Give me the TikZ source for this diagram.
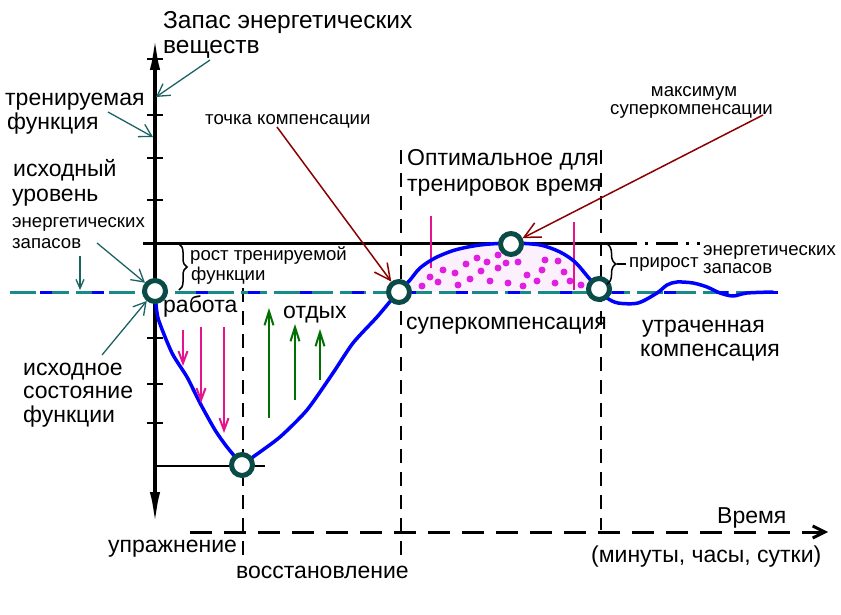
\documentclass[tikz,border=0pt]{standalone}
\usepackage{fontspec}
\setmainfont{Liberation Sans}
\usetikzlibrary{arrows.meta,decorations.pathreplacing}
\definecolor{ringc}{HTML}{0B4B47}
\definecolor{tealc}{HTML}{1B6262}
\definecolor{basec}{HTML}{178A8A}
\definecolor{redc}{HTML}{8B0000}
\definecolor{pinkc}{HTML}{E6148C}
\definecolor{dotc}{HTML}{E020E0}
\definecolor{fillc}{HTML}{FDF0FD}
\definecolor{greenc}{HTML}{007000}
\newcommand\mybig{\fontsize{23}{25}\selectfont}
\newcommand\mybigger{\fontsize{24.5}{26}\selectfont}
\newcommand\mysmall{\fontsize{18.6}{20}\selectfont}
\begin{document}
\begin{tikzpicture}[x=1pt,y=-1pt,
  lbl/.style={anchor=base west,inner sep=0,font=\mybig},
  slbl/.style={anchor=base west,inner sep=0,font=\mysmall},
  ring/.style={circle,draw=ringc,line width=5pt,fill=white,minimum size=21pt,inner sep=0},
  curve/.style={blue,line width=3.5pt,line join=round,line cap=round},
  vdash/.style={black,line width=2pt,dash pattern=on 14pt off 9pt},
  tealarrow/.style={draw=tealc,line width=1.3pt,-{Straight Barb[length=12pt,width=14pt]}},
  redarrow/.style={draw=redc,line width=1.5pt,-{Straight Barb[length=16pt,width=16pt]}},
  pinkarrow/.style={draw=pinkc,line width=2pt,-{Straight Barb[length=12pt,width=9pt]}},
  greenarrow/.style={draw=greenc,line width=2pt,-{Straight Barb[length=14pt,width=9pt]}},
  pdot/.style={circle,fill=dotc,inner sep=0,minimum size=7pt}]
\useasboundingbox (0,0) rectangle (841,615);

% axes
\coordinate (ytop) at (155,30);
\coordinate (ybot) at (155,532);
\draw[line width=4.5pt,{Latex[length=40pt,width=10pt]}-{Latex[length=40pt,width=10pt]}] (ybot) -- (ytop);
\foreach \yy in {59,115,158,200,338,384,423}
  \draw[line width=1.5pt] (147,\yy) -- (163,\yy);
\coordinate (xa) at (190,532);
\coordinate (xb) at (828,532);
\draw[line width=3pt,dash pattern=on 22pt off 12pt,-{Straight Barb[length=12pt,width=12pt]}] (xa) -- (xb);

% dashed verticals
\coordinate (v1a) at (243,288); \coordinate (v1b) at (243,555);
\coordinate (v2a) at (401,150); \coordinate (v2b) at (401,558);
\coordinate (v3a) at (601,150); \coordinate (v3b) at (601,530);
\draw[vdash] (v1a) -- (v1b);
\draw[vdash] (v2a) -- (v2b);
\draw[vdash] (v3a) -- (v3b);

% level lines
\coordinate (la) at (143,243); \coordinate (lb) at (615,243); \coordinate (lc) at (700,243);
\draw[line width=3pt] (la) -- (lb);
\draw[line width=3pt,dash pattern=on 22pt off 8pt on 3pt off 8pt] (lb) -- (lc);
\coordinate (ma) at (155,466); \coordinate (mb) at (265,466);
\draw[line width=1.2pt] (ma) -- (mb);

% hump fill
\fill[fillc] plot[smooth] coordinates {(399,292) (410,280) (420,268) (435,258) (455,250) (480,245) (511,243) (540,245) (560,252) (575,262) (588,277) (599,290)} -- cycle;
\foreach \p in {(443,270),(438,282),(422,286),(455,273),(466,264),(477,258),(481,271),(470,279),(458,285),(490,281),(498,255),(498,268),(508,283),(518,262),(527,275),(523,286),(537,281),(545,260),(542,270),(555,283),(558,261),(564,272),(581,285),(487,262),(506,263),(430,277),(570,281)}
  \node[pdot] at \p {};
\draw[pinkc,line width=1.5pt] (431,216) -- (431,268);
\draw[pinkc,line width=1.5pt] (574,222) -- (574,290);

% baseline
\coordinate (ba) at (10,292); \coordinate (bb) at (778,292);
\draw[basec,line width=3pt,dash pattern=on 26pt off 7pt] (ba) -- (bb);
\draw[blue,line width=3pt,dash pattern=on 12pt off 40pt,dash phase=-30pt] (ba) -- (bb);

% curve
\draw[curve] plot[smooth,tension=0.4] coordinates {(155,292) (158,318) (172,353) (187,377) (200,403) (215,430) (227,447) (242,465)};
\draw[curve] plot[smooth,tension=0.4] coordinates {(242,465) (253,457) (280,437) (307,410) (333,373) (353,343) (377,317) (393,298) (399,292)};
\draw[curve] plot[smooth] coordinates {(399,292) (410,280) (420,268) (435,258) (455,250) (480,245) (511,243) (540,245) (560,252) (575,262) (588,277) (599,290)};
\draw[curve] plot[smooth] coordinates {(599,290) (607,298) (618,303) (638,303) (657,293) (667,285) (677,282) (693,283) (707,287) (720,293) (733,296) (747,293) (773,292)};

% work / rest arrows
\coordinate (pa1) at (183,330); \coordinate (pb1) at (183,366);
\coordinate (pa2) at (201,327); \coordinate (pb2) at (201,403);
\coordinate (pa3) at (224,327); \coordinate (pb3) at (224,433);
\draw[pinkarrow] (pa1) -- (pb1);
\draw[pinkarrow] (pa2) -- (pb2);
\draw[pinkarrow] (pa3) -- (pb3);
\coordinate (ga1) at (269,418); \coordinate (gb1) at (269,308);
\coordinate (ga2) at (295,400); \coordinate (gb2) at (295,324);
\coordinate (ga3) at (320,380); \coordinate (gb3) at (320,329);
\draw[greenarrow] (ga1) -- (gb1);
\draw[greenarrow] (ga2) -- (gb2);
\draw[greenarrow] (ga3) -- (gb3);

% rings
\node[ring] (c0) at (155,291) {};
\node[ring] (c1) at (242,465) {};
\node[ring] (c2) at (399,292) {};
\node[ring] (c3) at (511,244) {};
\node[ring] (c4) at (599,289) {};

% braces
\draw[line width=1.5pt,decorate,decoration={brace,amplitude=8pt}] (179,244) -- (179,290);
\draw[line width=1.5pt,decorate,decoration={brace,amplitude=9pt}] (607,244) -- (607,284);
\coordinate (br2) at (617,264); \coordinate (br2b) at (626,264);
\draw[line width=1.5pt] (br2) -- (br2b);

% labels
\node[lbl,font=\mybigger] (t1) at (163,29) {Запас энергетических};
\node[lbl,font=\mybigger] (t2) at (163,54) {веществ};
\node[lbl] (t3) at (5,106) {тренируемая};
\node[lbl] (t4) at (7,130) {функция};
\node[lbl] (t5) at (13,177) {исходный};
\node[lbl] (t6) at (12,201) {уровень};
\node[slbl] (t7) at (12,227) {энергетических};
\node[slbl] (t8) at (12,248) {запасов};
\node[slbl] (t9) at (190,260) {рост тренируемой};
\node[slbl] (t10) at (191,280) {функции};
\node[lbl] (t11) at (163,312) {работа};
\node[lbl] (t12) at (283,318) {отдых};
\node[lbl] (t13) at (23,375) {исходное};
\node[lbl] (t14) at (23,398) {состояние};
\node[lbl] (t15) at (23,422) {функции};
\node[slbl] (t16) at (205,125) {точка компенсации};
\node[lbl] (t17) at (407,165) {Оптимальное для};
\node[lbl] (t18) at (407,192) {тренировок время};
\node[slbl,anchor=base] (t19) at (694,97) {максимум};
\node[slbl] (t20) at (610,115) {суперкомпенсации};
\node[slbl] (t21) at (703,255) {энергетических};
\node[slbl] (t22) at (703,273) {запасов};
\node[slbl] (t23) at (629,267) {прирост};
\node[lbl] (t24) at (406,329) {суперкомпенсация};
\node[lbl] (t25) at (642,332) {утраченная};
\node[lbl] (t26) at (640,356) {компенсация};
\node[lbl] (t27) at (108,552) {упражнение};
\node[lbl] (t28) at (236,578) {восстановление};
\node[lbl] (t29) at (717,523) {Время};
\node[lbl] (t30) at (591,562) {(минуты, часы, сутки)};

% pointers
\coordinate (p1) at (210,60); \coordinate (p1e) at (156,97);
\draw[tealarrow] (p1) -- (p1e);
\coordinate (p2) at (108,112); \coordinate (p2e) at (153,137);
\draw[tealarrow] (p2) -- (p2e);
\coordinate (p3) at (80,256); \coordinate (p3e) at (80,290);
\draw[tealarrow,-{Straight Barb[length=9pt,width=8pt]}] (p3) -- (p3e);
\coordinate (p4) at (97,243);
\draw[tealarrow] (p4) -- (c0);
\coordinate (p5) at (102,355);
\draw[tealarrow] (p5) -- (c0);
\coordinate (p6) at (277,127);
\draw[redarrow] (p6) -- (c2);
\coordinate (p7) at (763,115);
\draw[redarrow] (p7) -- (c3);
\end{tikzpicture}
\end{document}
